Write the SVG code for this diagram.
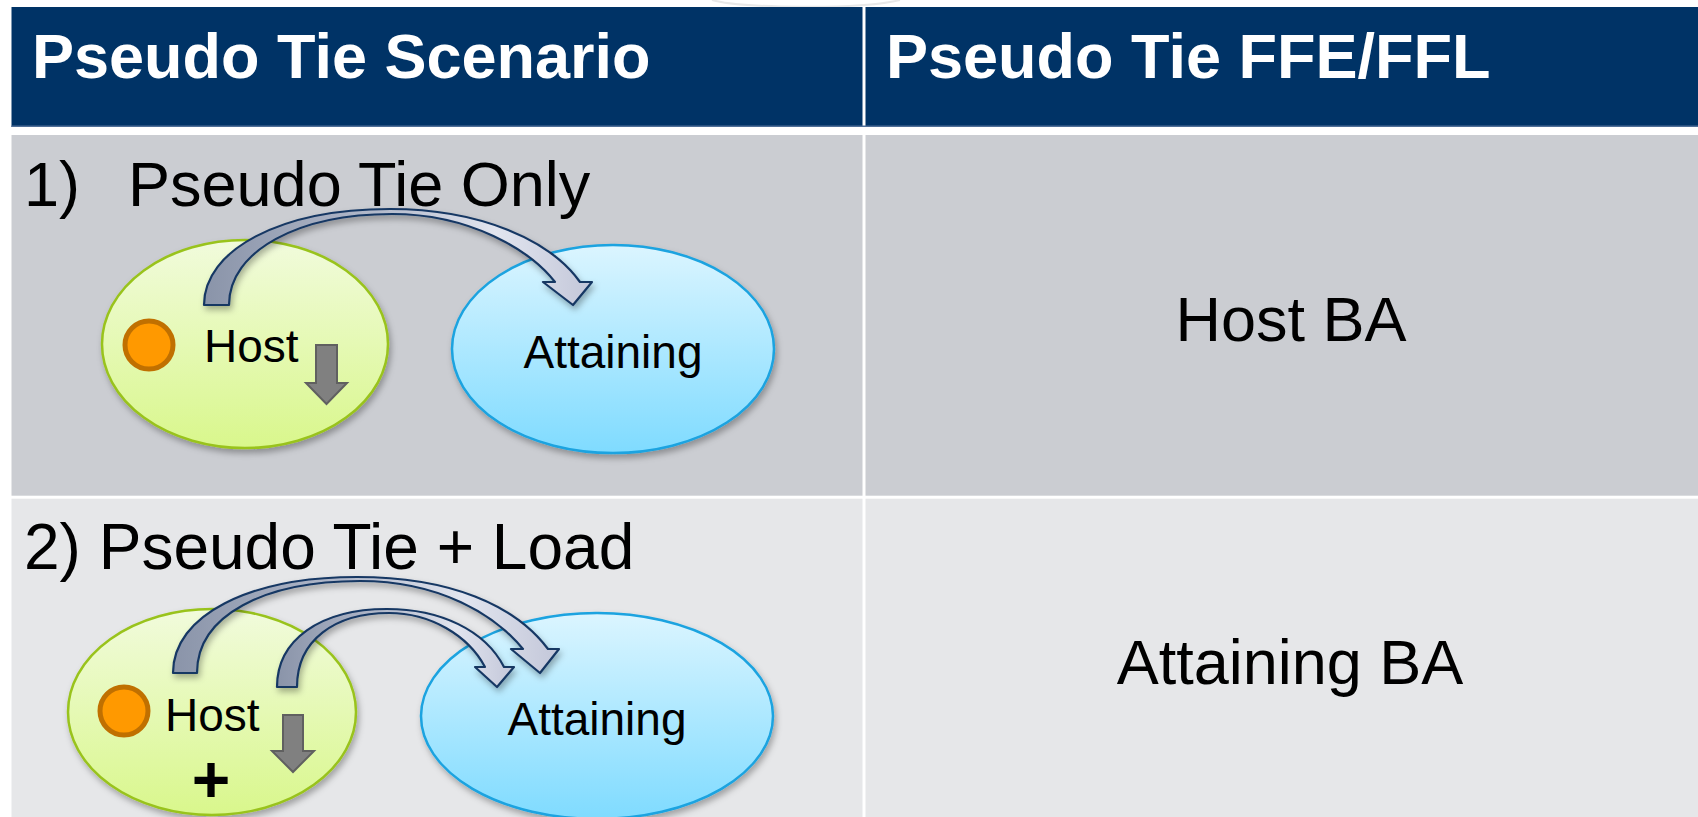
<svg xmlns="http://www.w3.org/2000/svg" width="1698" height="817" viewBox="0 0 1698 817">
<style>
.hdr{font-family:"Liberation Sans",Arial,sans-serif;font-weight:bold;font-size:63px;fill:#ffffff}
.big{font-family:"Liberation Sans",Arial,sans-serif;font-size:63px;fill:#000000}
.lbl{font-family:"Liberation Sans",Arial,sans-serif;font-size:46px;fill:#000000}
.host{stroke:#99c31c;stroke-width:2.5;fill:url(#gHost)}
.att{stroke:#1aa3e0;stroke-width:2.5;fill:url(#gAtt)}
.dot{fill:#ff9900;stroke:#c07000;stroke-width:5}
.down{fill:#808080;stroke:#606060;stroke-width:2}
.carrow{fill:url(#gArrow);stroke:#163764;stroke-width:2.2;stroke-linejoin:round}
</style>
<defs>
<linearGradient id="gHost" x1="0" y1="0" x2="0" y2="1">
<stop offset="0" stop-color="#f1fbdc"/>
<stop offset="1" stop-color="#d9f78c"/>
</linearGradient>
<linearGradient id="gAtt" x1="0" y1="0" x2="0" y2="1">
<stop offset="0" stop-color="#dbf5ff"/>
<stop offset="1" stop-color="#7fdbff"/>
</linearGradient>
<linearGradient id="gArrow" x1="0" y1="0" x2="1" y2="0">
<stop offset="0" stop-color="#8a94a9"/>
<stop offset="0.45" stop-color="#b3bacb"/>
<stop offset="0.75" stop-color="#e2e5ef"/>
<stop offset="1" stop-color="#c3c7d9"/>
</linearGradient>
<filter id="sh" x="-20%" y="-20%" width="140%" height="150%">
<feDropShadow dx="2" dy="4" stdDeviation="3" flood-color="#000000" flood-opacity="0.3"/>
</filter>
</defs>

<g id="background">
<rect x="0" y="0" width="1698" height="817" fill="#ffffff"/>
<path d="M712,0 C740,8 860,10 900,0" fill="none" stroke="#e8e8e8" stroke-width="2"/>
</g>

<g id="header">
<rect x="11.5" y="7" width="851" height="120" fill="#003366"/>
<rect x="865.5" y="7" width="833" height="120" fill="#003366"/>
<line x1="11.5" y1="126.3" x2="1698" y2="126.3" stroke="#4f6f98" stroke-width="1.5"/>
<text class="hdr" x="32" y="78">Pseudo Tie Scenario</text>
<text class="hdr" x="886" y="78">Pseudo Tie FFE/FFL</text>
</g>

<g id="row1">
<rect x="11.5" y="135" width="851" height="360.7" fill="#cbcdd2"/>
<rect x="865.5" y="135" width="833" height="360.7" fill="#cbcdd2"/>
<text class="big" x="24" y="206">1)</text>
<text class="big" x="128" y="206">Pseudo Tie Only</text>
<text class="big" x="1291" y="341" text-anchor="middle">Host BA</text>
</g>

<g id="row2">
<rect x="11.5" y="498.7" width="851" height="318.3" fill="#e6e7e9"/>
<rect x="865.5" y="498.7" width="833" height="318.3" fill="#e6e7e9"/>
<text class="big" x="24" y="569" style="font-size:64px">2) Pseudo Tie + Load</text>
<text class="big" x="1290" y="684" text-anchor="middle">Attaining BA</text>
</g>

<g id="host1">
<ellipse class="host" cx="245" cy="344" rx="143" ry="104" filter="url(#sh)"/>
<circle class="dot" cx="149" cy="345" r="24"/>
<text class="lbl" x="204" y="362">Host</text>
<path class="down" d="M316,345 L337,345 L337,383 L347,383 L326.5,404 L306,383 L316,383 Z"/>
</g>

<g id="attaining1">
<ellipse class="att" cx="613" cy="349" rx="161" ry="104" filter="url(#sh)"/>
<text class="lbl" x="613" y="368" text-anchor="middle">Attaining</text>
</g>

<g id="host2">
<ellipse class="host" cx="212" cy="712" rx="144" ry="103" filter="url(#sh)"/>
<circle class="dot" cx="124" cy="711" r="24"/>
<text class="lbl" x="165" y="731">Host</text>
<path class="down" d="M283,715 L303,715 L303,751 L314,751 L293,772 L272,751 L283,751 Z"/>
<text x="211" y="802" text-anchor="middle" style="font-family:'Liberation Sans',Arial,sans-serif;font-weight:bold;font-size:66px;fill:#000000">+</text>
</g>

<g id="attaining2">
<ellipse class="att" cx="597" cy="716" rx="176" ry="103" filter="url(#sh)"/>
<text class="lbl" x="597" y="735" text-anchor="middle">Attaining</text>
</g>

<g id="connectors" filter="url(#sh)">
<path class="carrow" d="M204,305 C204,250 280,209 390,209 C480,209 550,240 580,282 L592,282 L573,305 L543,282 L555,282 C530,250 470,214 392,214 C300,214 229,250 229,305 Z"/>
<path class="carrow" d="M173,673 C173,615 250,577 357,577 C450,577 515,605 548,649 L559,649 L540,673 L511,649 L523,649 C495,615 440,581 360,581 C265,581 197,615 197,673 Z"/>
<path class="carrow" d="M277,687 C277,640 320,609 387,609 C440,609 485,630 504,667 L514,667 L497,687 L475,667 L485,667 C468,635 430,613 389,613 C335,613 297,640 297,687 Z"/>
</g>
</svg>
